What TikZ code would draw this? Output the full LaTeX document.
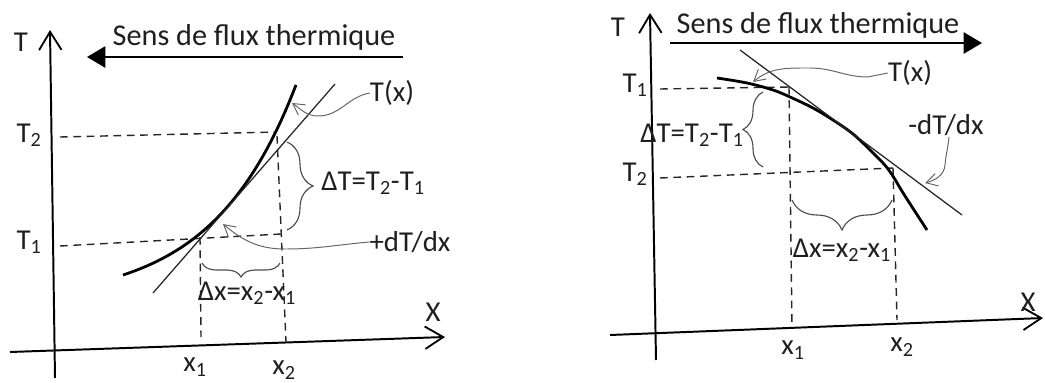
\documentclass[tikz,border=0pt]{standalone}
\usepackage{fontspec}
\setmainfont{Carlito}
\usetikzlibrary{arrows.meta,decorations.pathreplacing}
\tikzset{
  lbl/.style={font=\fontsize{20.5}{24}\selectfont, text=black!88, inner sep=0pt},
  big/.style={font=\fontsize{21.5}{25}\selectfont, text=black!88, inner sep=0pt},
  axis/.style={line width=1.4pt, -{Straight Barb[length=13pt,width=16pt,line width=1.3pt]}},
  flux/.style={line width=1.5pt, -{Triangle[length=13pt,width=15pt]}},
  curveT/.style={line width=2pt, black},
  tang/.style={line width=0.9pt, black!85},
  guide/.style={line width=1pt, dash pattern=on 5.5pt off 4pt, black!85},
  leader/.style={line width=0.7pt, black!60, -{Straight Barb[length=8pt,width=9pt,line width=0.7pt]}},
  bracez/.style={line width=0.8pt, black!70, decorate},
}
\begin{document}
\begin{tikzpicture}[x=0.025cm,y=-0.025cm]
\useasboundingbox (0,0) rectangle (1045,382);
% ================= LEFT PANEL =================
\coordinate (LyB) at (55,378); \coordinate (LyT) at (50,30);
\coordinate (LxL) at (10,352); \coordinate (LxR) at (445,337);
\draw[axis] (LyB) -- (LyT);
\draw[axis] (LxL) -- (LxR);
\node[lbl] (LT) at (21,42) {T};
\node[lbl] (LX) at (433,312) {X};
\coordinate (LfA) at (403,57); \coordinate (LfB) at (87,57);
\draw[flux] (LfA) -- (LfB);
\node[big] (Lsens) at (254,37) {Sens de flux thermique};
% guides
\coordinate (LT2a) at (60,137); \coordinate (LT2b) at (276,132);
\coordinate (LT1a) at (60,246); \coordinate (LT1b) at (281,234);
\coordinate (Lx1a) at (200,237); \coordinate (Lx1b) at (201,337);
\coordinate (Lx2a) at (277,136); \coordinate (Lx2b) at (286,342);
\draw[guide] (LT2a) -- (LT2b);
\draw[guide] (LT1a) -- (LT1b);
\draw[guide] (Lx1a) -- (Lx1b);
\draw[guide] (Lx2a) -- (Lx2b);
\node[lbl] (LT2) at (29,135) {T\textsubscript{2}};
\node[lbl] (LT1) at (29,242) {T\textsubscript{1}};
\node[lbl] (Lx1) at (195,367) {x\textsubscript{1}};
\node[lbl] (Lx2) at (284,370) {x\textsubscript{2}};
% curve and tangent
\draw[curveT] plot[domain=123:296, samples=80] (\x, {275 - 27.3*(exp(0.012*(\x-123))-1)});
\coordinate (LtA) at (153,293); \coordinate (LtB) at (335,84);
\draw[tang] (LtA) -- (LtB);
% labels and leaders
\node[lbl] (LTx) at (392,93) {T(x)};
\coordinate (LTxTip) at (292,103);
\draw[leader] (LTx.west) to[out=190,in=0] (318,116) to[out=180,in=-35] (LTxTip);
\node[lbl] (LdT) at (410,242) {+dT/dx};
\coordinate (LdTTip) at (223,224);
\draw[leader] (LdT.west) to[out=185,in=0] (285,249) to[out=180,in=-40] (LdTTip);
% braces
\coordinate (LbTa) at (287,142); \coordinate (LbTb) at (287,230);
\draw[bracez, decoration={brace, amplitude=0.65cm}] (LbTa) -- (LbTb);
\node[lbl] (LDT) at (373,183) {ΔT=T\textsubscript{2}-T\textsubscript{1}};
\coordinate (Lbxa) at (280,263); \coordinate (Lbxb) at (202,263);
\draw[bracez, decoration={brace, amplitude=0.35cm}] (Lbxa) -- (Lbxb);
\node[lbl] (LDx) at (247,293) {Δx=x\textsubscript{2}-x\textsubscript{1}};
% ================= RIGHT PANEL =================
\coordinate (RyB) at (656,360); \coordinate (RyT) at (650,13);
\coordinate (RxL) at (610,335); \coordinate (RxR) at (1043,318);
\draw[axis] (RyB) -- (RyT);
\draw[axis] (RxL) -- (RxR);
\node[lbl] (RT) at (618,27) {T};
\node[lbl] (RX) at (1028,302) {X};
\coordinate (RfA) at (670,43); \coordinate (RfB) at (982,43);
\draw[flux] (RfA) -- (RfB);
\node[big] (Rsens) at (818,25) {Sens de flux thermique};
% guides
\coordinate (RT1a) at (660,89); \coordinate (RT1b) at (790,87);
\coordinate (RT2a) at (660,178); \coordinate (RT2b) at (893,168);
\coordinate (Rx1a) at (789,87); \coordinate (Rx1b) at (792,327);
\coordinate (Rx2a) at (893,168); \coordinate (Rx2b) at (897,320);
\draw[guide] (RT1a) -- (RT1b);
\draw[guide] (RT2a) -- (RT2b);
\draw[guide] (Rx1a) -- (Rx1b);
\draw[guide] (Rx2a) -- (Rx2b);
\node[lbl] (RT1) at (635,85) {T\textsubscript{1}};
\node[lbl] (RT2) at (635,174) {T\textsubscript{2}};
\node[lbl] (Rx1) at (793,350) {x\textsubscript{1}};
\node[lbl] (Rx2) at (902,347) {x\textsubscript{2}};
% curve and tangent
\draw[curveT] plot[smooth, tension=0.6] coordinates {(717,78) (747,83) (773,90) (790,97) (813,108) (833,120) (853,134) (870,150) (888,169) (905,196) (927,230)};
\coordinate (RtA) at (740,50); \coordinate (RtB) at (962,215);
\draw[tang] (RtA) -- (RtB);
% labels and leaders
\node[lbl] (RTx) at (910,73) {T(x)};
\coordinate (RTxTip) at (753,82);
\draw[leader] (RTx.west) -- (868,77) to[out=180,in=0] (810,68) to[out=180,in=40] (RTxTip);
\node[lbl] (RdT) at (946,125) {-dT/dx};
\coordinate (RdTTip) at (925,183);
\draw[leader] (949,137) to[out=-95,in=85] (945,165) to[out=-95,in=15] (RdTTip);
% braces
\coordinate (RbTa) at (763,167); \coordinate (RbTb) at (763,92);
\draw[bracez, decoration={brace, amplitude=0.5cm}] (RbTa) -- (RbTb);
\node[lbl] (RDT) at (692,135) {ΔT=T\textsubscript{2}-T\textsubscript{1}};
\coordinate (Rbxa) at (892,200); \coordinate (Rbxb) at (792,200);
\draw[bracez, decoration={brace, amplitude=0.75cm}] (Rbxa) -- (Rbxb);
\node[lbl] (RDx) at (842,250) {Δx=x\textsubscript{2}-x\textsubscript{1}};
\end{tikzpicture}
\end{document}
